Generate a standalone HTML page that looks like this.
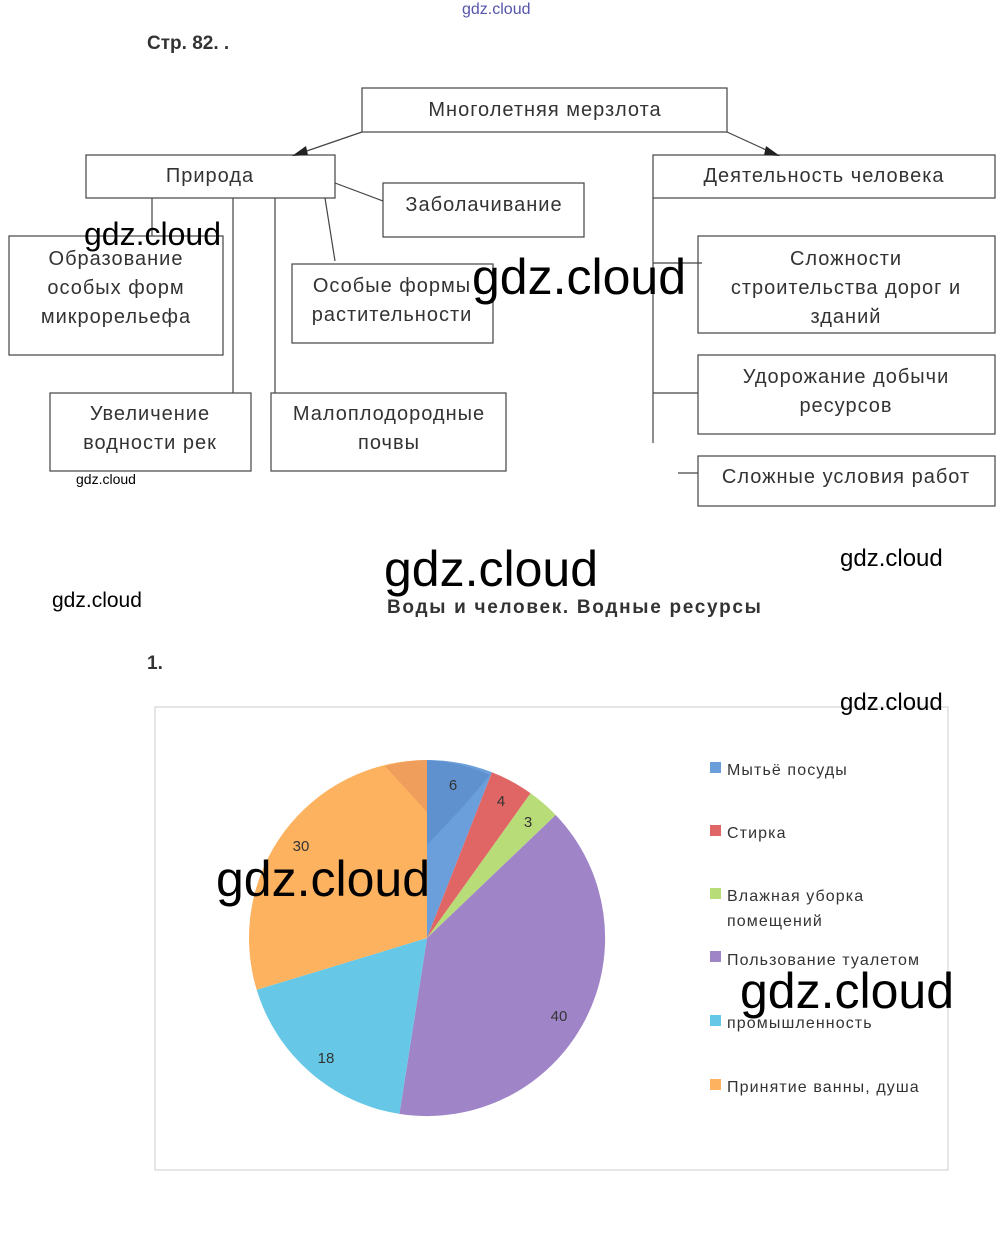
<!DOCTYPE html>
<html><head><meta charset="utf-8"><style>
body{margin:0;background:#fff;width:1000px;height:1236px;position:relative;overflow:hidden;font-family:"Liberation Sans",sans-serif}
.t{position:absolute;white-space:nowrap}
</style></head><body>
<svg width="1000" height="1236" style="position:absolute;left:0;top:0" font-family="Liberation Sans, sans-serif">
<g fill="none" stroke="#444" stroke-width="1.2">
<rect x="362" y="88" width="365" height="44"/>
<rect x="86" y="155" width="249" height="43"/>
<rect x="653" y="155" width="342" height="43"/>
<rect x="383" y="183" width="201" height="54"/>
<rect x="9" y="236" width="214" height="119"/>
<rect x="292" y="264" width="201" height="79"/>
<rect x="50" y="393" width="201" height="78"/>
<rect x="271" y="393" width="235" height="78"/>
<rect x="698" y="236" width="297" height="97"/>
<rect x="698" y="355" width="297" height="79"/>
<rect x="698" y="456" width="297" height="50"/>
<line x1="362" y1="132" x2="298" y2="154"/>
<line x1="727" y1="132" x2="775" y2="154"/>
<line x1="335" y1="183" x2="383" y2="201"/>
<line x1="152" y1="198" x2="152" y2="236"/>
<line x1="233" y1="198" x2="233" y2="393"/>
<line x1="275" y1="198" x2="275" y2="393"/>
<line x1="325" y1="198" x2="335" y2="261"/>
<line x1="653" y1="198" x2="653" y2="443"/>
<line x1="653" y1="263" x2="702" y2="263"/>
<line x1="653" y1="393" x2="698" y2="393"/>
<line x1="678" y1="473" x2="698" y2="473"/>
</g>
<polygon points="292,156 306,146 308,155" fill="#222"/>
<polygon points="780,156 766,146 764,155" fill="#222"/>
<g font-size="20" fill="#333" text-anchor="middle" letter-spacing="1">
<text x="545" y="116">Многолетняя мерзлота</text>
<text x="210" y="182">Природа</text>
<text x="824" y="182">Деятельность человека</text>
<text x="484" y="211">Заболачивание</text>
<text x="116" y="265">Образование</text>
<text x="116" y="294">особых форм</text>
<text x="116" y="323">микрорельефа</text>
<text x="392" y="292">Особые формы</text>
<text x="392" y="321">растительности</text>
<text x="150" y="420">Увеличение</text>
<text x="150" y="449">водности рек</text>
<text x="389" y="420">Малоплодородные</text>
<text x="389" y="449">почвы</text>
<text x="846" y="265">Сложности</text>
<text x="846" y="294">строительства дорог и</text>
<text x="846" y="323">зданий</text>
<text x="846" y="383">Удорожание добычи</text>
<text x="846" y="412">ресурсов</text>
<text x="846" y="483">Сложные условия работ</text>
</g>
<rect x="155" y="707" width="793" height="463" fill="none" stroke="#ccc"/>
<path d="M427,938 L427,760 A178,178 0 0 1 492,772.3Z" fill="#6a9fdc"/>
<path d="M427,938 L492,772.3 A178,178 0 0 1 530.6,793.3Z" fill="#e06666"/>
<path d="M427,938 L530.6,793.3 A178,178 0 0 1 555.7,815Z" fill="#b8dc78"/>
<path d="M427,938 L555.7,815 A178,178 0 0 1 399.4,1113.9Z" fill="#9f85c8"/>
<path d="M427,938 L399.4,1113.9 A178,178 0 0 1 256.7,989.8Z" fill="#66c8e6"/>
<path d="M427,938 L256.7,989.8 A178,178 0 0 1 427,760Z" fill="#fdb260"/>
<path d="M427,760 L427,845 L460,810 L490,775 A178,178 0 0 0 427,760Z" fill="#5a8cc8" opacity="0.7"/>
<path d="M427,760 L427,812 L385,766 A178,178 0 0 1 427,760Z" fill="#e8965a" opacity="0.7"/>
<g font-size="15" fill="#333" text-anchor="middle">
<text x="453" y="790">6</text><text x="501" y="806">4</text><text x="528" y="827">3</text>
<text x="559" y="1021">40</text><text x="326" y="1063">18</text><text x="301" y="851">30</text>
</g>
<g font-size="16" fill="#333" letter-spacing="1.1">
<rect x="710" y="762" width="11" height="11" fill="#6a9fdc"/><text x="727" y="775">Мытьё посуды</text>
<rect x="710" y="825" width="11" height="11" fill="#e06666"/><text x="727" y="838">Стирка</text>
<rect x="710" y="888" width="11" height="11" fill="#b8dc78"/><text x="727" y="901">Влажная уборка</text><text x="727" y="926">помещений</text>
<rect x="710" y="951" width="11" height="11" fill="#9f85c8"/><text x="727" y="965">Пользование туалетом</text>
<rect x="710" y="1015" width="11" height="11" fill="#66c8e6"/><text x="727" y="1028">промышленность</text>
<rect x="710" y="1079" width="11" height="11" fill="#fdb260"/><text x="727" y="1092">Принятие ванны, душа</text>
</g>
</svg>
<div class="t" style="left:147px;top:33px;font-size:19px;font-weight:bold;color:#333">Стр. 82. .</div>
<div class="t" style="left:462px;top:1px;font-size:16px;color:#55a">gdz.cloud</div>
<div class="t" style="left:387px;top:597px;font-size:19px;font-weight:bold;color:#333;letter-spacing:1.7px">Воды и человек. Водные ресурсы</div>
<div class="t" style="left:147px;top:653px;font-size:19px;font-weight:bold;color:#333">1.</div>
<div class="t" style="left:84px;top:216px;font-size:32px;color:#000">gdz.cloud</div>
<div class="t" style="left:472px;top:248px;font-size:50px;color:#000">gdz.cloud</div>
<div class="t" style="left:76px;top:471px;font-size:14px;color:#000">gdz.cloud</div>
<div class="t" style="left:384px;top:540px;font-size:50px;color:#000">gdz.cloud</div>
<div class="t" style="left:840px;top:545px;font-size:24px;color:#000">gdz.cloud</div>
<div class="t" style="left:52px;top:589px;font-size:21px;color:#000">gdz.cloud</div>
<div class="t" style="left:840px;top:689px;font-size:24px;color:#000">gdz.cloud</div>
<div class="t" style="left:216px;top:850px;font-size:50px;color:#000">gdz.cloud</div>
<div class="t" style="left:740px;top:962px;font-size:50px;color:#000">gdz.cloud</div>
</body></html>
